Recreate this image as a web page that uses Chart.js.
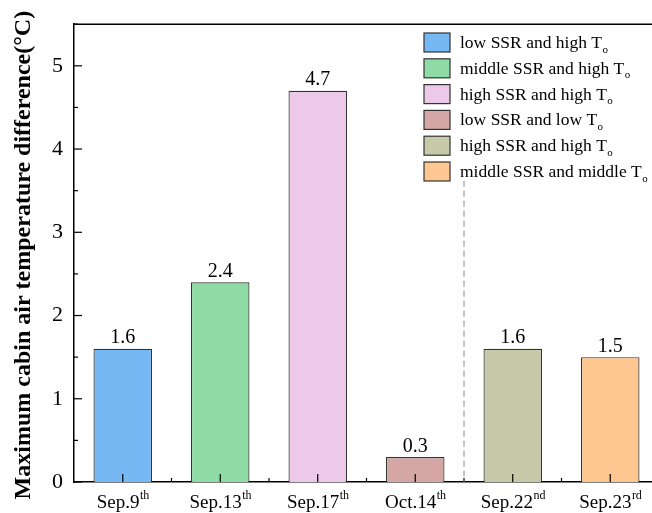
<!DOCTYPE html>
<html><head><meta charset="utf-8">
<script src="https://cdn.jsdelivr.net/npm/chart.js@4"></script>
<style>html,body{margin:0;padding:0;overflow:hidden;background:#fff}#wrap{width:662px;height:513px;position:relative}</style>
</head><body><div id="wrap"><canvas id="c"></canvas></div>
<script>
const catBase = ['Sep.9','Sep.13','Sep.17','Oct.14','Sep.22','Sep.23'];
const catSup = ['th','th','th','th','nd','rd'];
const values = [1.6, 2.4, 4.7, 0.3, 1.6, 1.5];
const barColors = ['#76b8f3','#8edba5','#ecc9e8','#d4a6a6','#c7caa9','#fec792'];
const legendText = ['low SSR and high T','middle SSR and high T','high SSR and high T','low SSR and low T','high SSR and high T','middle SSR and middle T'];
const legendSub = ['o','o','o','o','o','o'];
const yTicks = [0,1,2,3,4,5];
const yMax = 5.5;
const dividerTop = 3.62;
const yTitle = 'Maximum cabin air temperature difference(°C)';
const SERIF = "'Liberation Serif','Times New Roman',serif";

const deco = {
  id:'deco',
  afterDraw(chart){
    const ctx = chart.ctx, a = chart.chartArea, xs = chart.scales.x, ys = chart.scales.y;
    ctx.save();
    ctx.strokeStyle = '#000'; ctx.lineWidth = 1.5;
    ctx.beginPath(); ctx.moveTo(a.left, a.top); ctx.lineTo(a.right, a.top); ctx.stroke();
    ctx.lineWidth = 1.2;
    for (let v = 0; v <= yMax + 1e-9; v += 0.5) {
      const y = ys.getPixelForValue(v);
      const len = Number.isInteger(v) ? 8 : 4;
      ctx.beginPath(); ctx.moveTo(a.left, y); ctx.lineTo(a.left + len, y); ctx.stroke();
    }
    for (let i = 0; i < catBase.length; i++) {
      const x = xs.getPixelForValue(i);
      ctx.beginPath(); ctx.moveTo(x, a.bottom); ctx.lineTo(x, a.bottom - 8); ctx.stroke();
      if (i > 0) {
        const xb = (xs.getPixelForValue(i-1) + x) / 2;
        ctx.beginPath(); ctx.moveTo(xb, a.bottom); ctx.lineTo(xb, a.bottom - 4); ctx.stroke();
      }
    }
    const xd = (xs.getPixelForValue(3) + xs.getPixelForValue(4)) / 2;
    ctx.strokeStyle = '#8a8a8a'; ctx.lineWidth = 1; ctx.setLineDash([6,4]);
    ctx.beginPath(); ctx.moveTo(xd, ys.getPixelForValue(dividerTop)); ctx.lineTo(xd, a.bottom); ctx.stroke();
    ctx.setLineDash([]);
    ctx.fillStyle = '#000'; ctx.textAlign = 'center'; ctx.textBaseline = 'alphabetic';
    ctx.font = '20px ' + SERIF;
    values.forEach((v, i) => {
      ctx.fillText(v.toFixed(1), xs.getPixelForValue(i), ys.getPixelForValue(v) - 5.5);
    });
    // y title
    ctx.save();
    ctx.translate(24, (a.top + a.bottom) / 2 + 2);
    ctx.rotate(-Math.PI / 2);
    ctx.textBaseline = 'middle';
    ctx.font = 'bold 24px ' + SERIF;
    ctx.fillText(yTitle, 0, 0);
    ctx.restore();
    // x labels
    ctx.textAlign = 'left';
    for (let i = 0; i < catBase.length; i++) {
      ctx.font = '19px ' + SERIF;
      const w1 = ctx.measureText(catBase[i]).width;
      ctx.font = '12px ' + SERIF;
      const w2 = ctx.measureText(catSup[i]).width;
      const x0 = xs.getPixelForValue(i) - (w1 + w2) / 2;
      ctx.font = '19px ' + SERIF;
      ctx.fillText(catBase[i], x0, a.bottom + 26);
      ctx.font = '12px ' + SERIF;
      ctx.fillText(catSup[i], x0 + w1 + 0.5, a.bottom + 16.5);
    }
    // legend
    const lx = 424, ly0 = 33, dy = 25.8;
    for (let i = 0; i < legendText.length; i++) {
      const y = ly0 + i * dy;
      ctx.fillStyle = barColors[i]; ctx.fillRect(lx, y, 26, 19);
      ctx.strokeStyle = '#333'; ctx.lineWidth = 1.2; ctx.strokeRect(lx, y, 26, 19);
      ctx.fillStyle = '#000';
      ctx.font = '17.5px ' + SERIF;
      ctx.fillText(legendText[i], 460, y + 15);
      const w = ctx.measureText(legendText[i]).width;
      ctx.font = '11px ' + SERIF;
      ctx.fillText(legendSub[i], 460 + w + 0.5, y + 19.5);
    }
    ctx.restore();
  }
};

new Chart(document.getElementById('c'), {
  type: 'bar',
  data: { labels: catBase, datasets: [{ data: values, backgroundColor: barColors, borderColor: '#333', borderWidth: 1.2, barPercentage: 0.6, categoryPercentage: 1 }] },
  options: {
    responsive: true, maintainAspectRatio: false, animation: false,
    layout: { padding: { top: 21, right: 3, left: 0, bottom: 0 } },
    plugins: { legend: { display: false }, tooltip: { enabled: false } },
    scales: {
      x: {
        grid: { display: false, drawTicks: false },
        border: { display: true, color: '#000', width: 1.5 },
        ticks: { display: false },
        afterFit(s) { s.height = 31; }
      },
      y: {
        min: 0, max: yMax,
        afterBuildTicks(s) { s.ticks = yTicks.map(v => ({ value: v })); },
        grid: { display: false, drawTicks: false },
        border: { display: true, color: '#000', width: 1.5 },
        ticks: { color: '#000', padding: 11, font: { family: SERIF, size: 22 } },
        afterFit(s) { s.width = 74; }
      }
    }
  },
  plugins: [deco]
});
</script></body></html>
